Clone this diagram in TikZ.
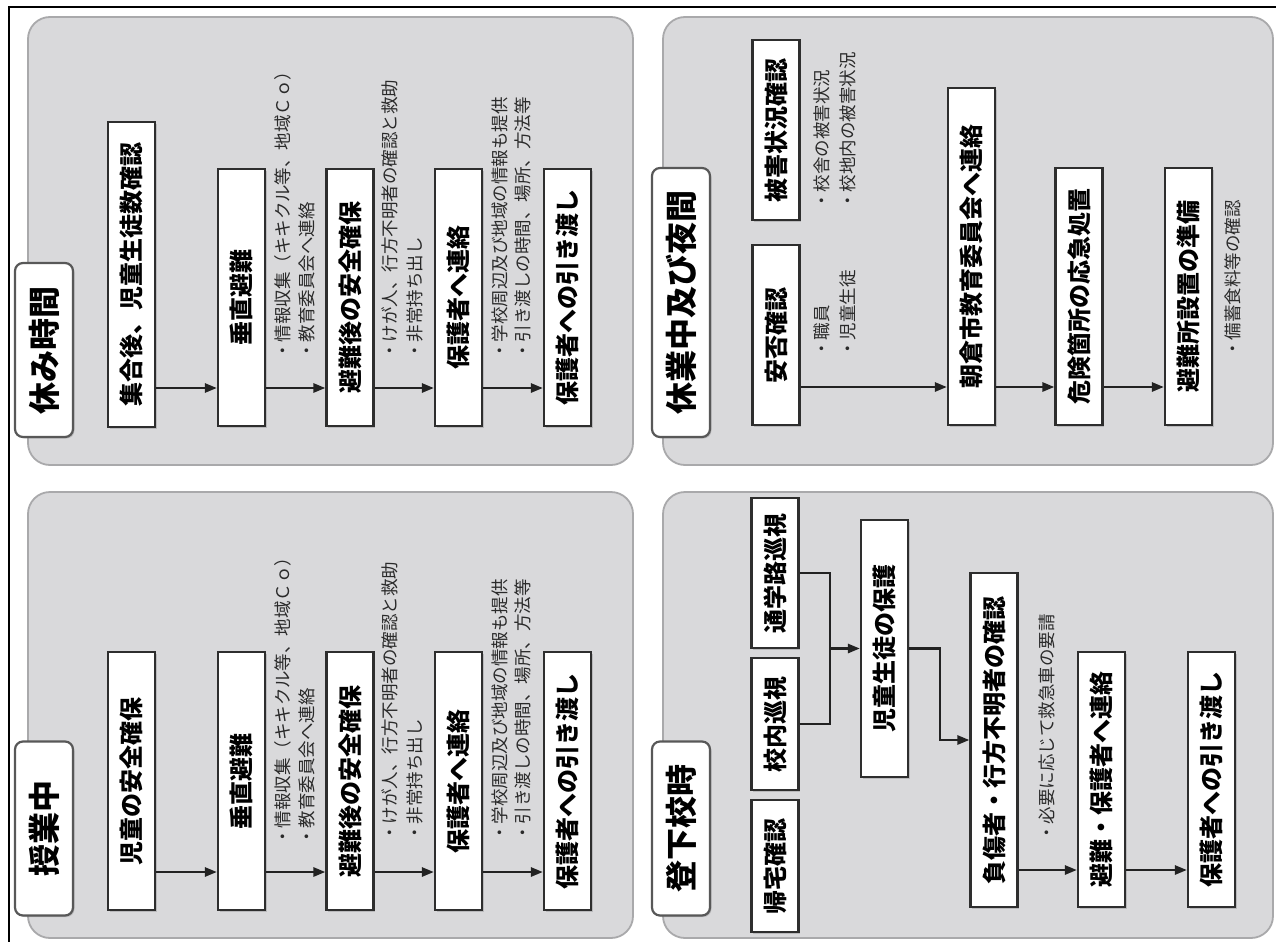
\documentclass[tikz,border=0pt]{standalone}
\usepackage{fontspec}
\usetikzlibrary{arrows.meta,shadows}
\newfontfamily\jp{Noto Sans CJK JP}
\definecolor{panelgray}{HTML}{D9D9DB}
\definecolor{paneledge}{HTML}{A9A9AB}
\definecolor{boxedge}{HTML}{2E2E2E}
\definecolor{linecol}{HTML}{222222}
\definecolor{notetext}{HTML}{2A2A2A}
\newcommand{\up}[1]{\rotatebox{90}{#1}}
\tikzset{
  panel/.style={rounded corners=22pt, fill=panelgray, draw=paneledge, line width=1.8pt},
  tag/.style={rounded corners=8pt, fill=white, draw=boxedge!80, line width=2.2pt,
    minimum width=58pt, inner sep=0pt,
    drop shadow={shadow xshift=1.5pt, shadow yshift=-1.5pt, opacity=0.35},
    font=\jp\bfseries\fontsize{32}{32}\selectfont},
  stepbox/.style={draw=boxedge, fill=white, line width=2.2pt, inner sep=0pt,
    minimum width=47pt,
    drop shadow={shadow xshift=1.5pt, shadow yshift=-1.5pt, opacity=0.35},
    font=\jp\bfseries\fontsize{24}{24}\selectfont},
  memo/.style={inner sep=0pt, anchor=south, text=notetext,
    font=\jp\fontsize{17.5}{18}\selectfont},
  arr/.style={-{Triangle[length=12pt,width=9pt]}, line width=2.6pt, draw=linecol},
  lin/.style={line width=2.6pt, draw=linecol},
}
\begin{document}
\begin{tikzpicture}[x=1pt,y=-1pt]
\useasboundingbox (0,0) rectangle (1276,942);
\fill[white] (0,0) rectangle (1276,942);
% outer frame (top and left edges)
\draw[line width=2pt, black] (1276,7) -- (9,7) -- (9,942);

% four panels
\draw[panel] (28,17) rectangle (633,465);
\draw[panel] (28,492) rectangle (633,938);
\draw[panel] (663,17) rectangle (1273,465);
\draw[panel] (663,492) rectangle (1273,938);

% panel titles
\node[tag, minimum height=174pt] (L1) at (44,350) {\up{休み時間}};
\node[tag, minimum height=174pt] (L2) at (44,828.5) {\up{授業中}};
\node[tag, minimum height=269pt] (L3) at (681,302.5) {\up{休業中及び夜間}};
\node[tag, minimum height=174pt] (L4) at (681,828.5) {\up{登下校時}};

% ---------- 休み時間 ----------
\node[stepbox, minimum height=305pt] (B1) at (131.5,274.5) {\up{集合後、児童生徒数確認}};
\node[stepbox, minimum height=257pt] (B2) at (241.5,297.5) {\up{垂直避難}};
\node[stepbox, minimum height=257pt] (B3) at (350,297.5) {\up{避難後の安全確保}};
\node[stepbox, minimum height=257pt] (B4) at (458.5,297.5) {\up{保護者へ連絡}};
\node[stepbox, minimum height=257pt] (B5) at (567.5,297.5) {\up{保護者への引き渡し}};
\coordinate (rB) at (0,388);
\draw[arr] (B1.east |- rB) -- (B2.west |- rB);
\draw[arr] (B2.east |- rB) -- (B3.west |- rB);
\draw[arr] (B3.east |- rB) -- (B4.west |- rB);
\draw[arr] (B4.east |- rB) -- (B5.west |- rB);
\node[memo] (nB2a) at (283,360) {\up{・情報収集（キキクル等、地域Ｃｏ）}};
\node[memo] (nB2b) at (307,360) {\up{・教育委員会へ連絡}};
\node[memo] (nB3a) at (390,360) {\up{・けが人、行方不明者の確認と救助}};
\node[memo] (nB3b) at (415,360) {\up{・非常持ち出し}};
\node[memo] (nB4a) at (500,360) {\up{・学校周辺及び地域の情報も提供}};
\node[memo] (nB4b) at (523,360) {\up{・引き渡しの時間、場所、方法等}};

% ---------- 授業中 ----------
\node[stepbox, minimum height=258pt] (A1) at (131.5,781) {\up{児童の安全確保}};
\node[stepbox, minimum height=258pt] (A2) at (241.5,781) {\up{垂直避難}};
\node[stepbox, minimum height=258pt] (A3) at (350,781) {\up{避難後の安全確保}};
\node[stepbox, minimum height=258pt] (A4) at (458.5,781) {\up{保護者へ連絡}};
\node[stepbox, minimum height=258pt] (A5) at (567.5,781) {\up{保護者への引き渡し}};
\coordinate (rA) at (0,872);
\draw[arr] (A1.east |- rA) -- (A2.west |- rA);
\draw[arr] (A2.east |- rA) -- (A3.west |- rA);
\draw[arr] (A3.east |- rA) -- (A4.west |- rA);
\draw[arr] (A4.east |- rA) -- (A5.west |- rA);
\node[memo] (nA2a) at (283,846) {\up{・情報収集（キキクル等、地域Ｃｏ）}};
\node[memo] (nA2b) at (307,846) {\up{・教育委員会へ連絡}};
\node[memo] (nA3a) at (390,842) {\up{・けが人、行方不明者の確認と救助}};
\node[memo] (nA3b) at (415,842) {\up{・非常持ち出し}};
\node[memo] (nA4a) at (500,842) {\up{・学校周辺及び地域の情報も提供}};
\node[memo] (nA4b) at (523,842) {\up{・引き渡しの時間、場所、方法等}};

% ---------- 休業中及び夜間 ----------
\node[stepbox, minimum height=180pt] (C1) at (776,335) {\up{安否確認}};
\node[stepbox, minimum height=180pt] (C2) at (776,130) {\up{被害状況確認}};
\node[stepbox, minimum height=337pt] (C3) at (971.5,256.5) {\up{朝倉市教育委員会へ連絡}};
\node[stepbox, minimum height=257pt] (C4) at (1079,296.5) {\up{危険箇所の応急処置}};
\node[stepbox, minimum height=257pt] (C5) at (1188.5,296.5) {\up{避難所設置の準備}};
\coordinate (rC) at (0,387);
\draw[arr] (C1.east |- rC) -- (C3.west |- rC);
\draw[arr] (C3.east |- rC) -- (C4.west |- rC);
\draw[arr] (C4.east |- rC) -- (C5.west |- rC);
\node[memo] (nC1a) at (822,358) {\up{・職員}};
\node[memo] (nC1b) at (848,358) {\up{・児童生徒}};
\node[memo] (nC2a) at (822,210) {\up{・校舎の被害状況}};
\node[memo] (nC2b) at (848,210) {\up{・校地内の被害状況}};
\node[memo] (nC5a) at (1233,358) {\up{・備蓄食料等の確認}};

% ---------- 登下校時 ----------
\node[stepbox, minimum height=132pt] (D1) at (775,866) {\up{帰宅確認}};
\node[stepbox, minimum height=132pt] (D2) at (775,724) {\up{校内巡視}};
\node[stepbox, minimum height=150pt] (D3) at (775,573) {\up{通学路巡視}};
\node[stepbox, minimum height=257pt] (D4) at (884.5,648.5) {\up{児童生徒の保護}};
\node[stepbox, minimum height=334pt] (D5) at (994,740) {\up{負傷者・行方不明者の確認}};
\node[stepbox, minimum height=255pt] (D6) at (1101.5,779.5) {\up{避難・保護者へ連絡}};
\node[stepbox, minimum height=255pt] (D7) at (1211.5,779.5) {\up{保護者への引き渡し}};
\coordinate (jn) at (830,648.5);
\coordinate (jn2) at (940,0);
\coordinate (rD) at (0,870);
\draw[lin] (D3.east) -| (jn);
\draw[lin] (D2.east) -| (jn);
\draw[arr] (jn) -- (D4.west);
\draw[arr] (D4.east) -- (D4.east -| jn2) |- (D5.west);
\draw[arr] (D5.east |- rD) -- (D6.west |- rD);
\draw[arr] (D6.east |- rD) -- (D7.west |- rD);
\node[memo] (nD5a) at (1047,842) {\up{・必要に応じて救急車の要請}};
\end{tikzpicture}
\end{document}
